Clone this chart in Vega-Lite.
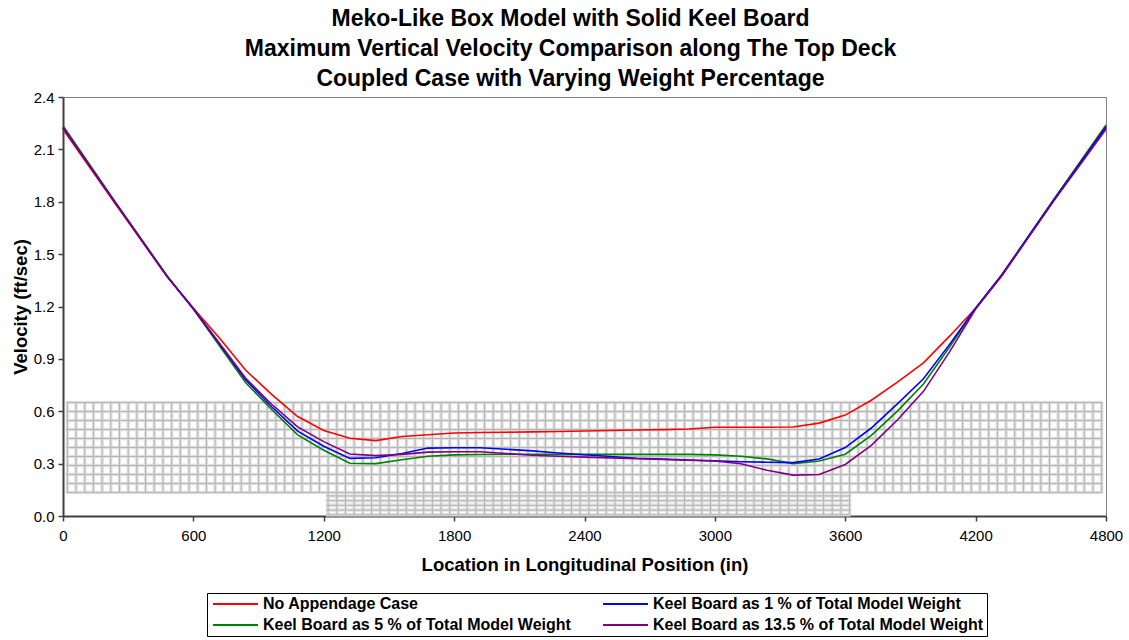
{
  "$schema": "https://vega.github.io/schema/vega-lite/v6.json",
  "autosize": {"type": "none"},
  "width": 1043,
  "height": 419,
  "padding": {"left": 63, "top": 97, "right": 23, "bottom": 124},
  "background": "white",
  "config": {
    "font": "Liberation Sans",
    "view": {"stroke": "#808080", "strokeWidth": 1},
    "axis": {"domainColor": "#404040", "domainWidth": 2, "tickColor": "#404040", "tickWidth": 1.5, "tickSize": 5, "grid": false, "labelColor": "black", "labelFont": "Liberation Sans", "labelFontSize": 15, "titleFont": "Liberation Sans", "titleFontSize": 18.5, "titleFontWeight": "bold", "titleColor": "black"}
  },
  "title": {
    "text": ["Meko-Like Box Model with Solid Keel Board", "Maximum Vertical Velocity Comparison along The Top Deck", "Coupled Case with Varying Weight Percentage"],
    "font": "Liberation Sans", "fontSize": 23, "fontWeight": "bold", "color": "black", "lineHeight": 30, "offset": -1, "anchor": "middle", "dx": -14
  },
  "datasets": {
    "vlines": [
      {"x":20,"lo":0.135},{"x":60,"lo":0.135},{"x":100,"lo":0.135},{"x":140,"lo":0.135},{"x":180,"lo":0.135},{"x":220,"lo":0.135},{"x":260,"lo":0.135},{"x":300,"lo":0.135},{"x":340,"lo":0.135},{"x":380,"lo":0.135},
      {"x":420,"lo":0.135},{"x":460,"lo":0.135},{"x":500,"lo":0.135},{"x":540,"lo":0.135},{"x":580,"lo":0.135},{"x":620,"lo":0.135},{"x":660,"lo":0.135},{"x":700,"lo":0.135},{"x":740,"lo":0.135},{"x":780,"lo":0.135},
      {"x":820,"lo":0.135},{"x":860,"lo":0.135},{"x":900,"lo":0.135},{"x":940,"lo":0.135},{"x":980,"lo":0.135},{"x":1020,"lo":0.135},{"x":1060,"lo":0.135},{"x":1100,"lo":0.135},{"x":1140,"lo":0.135},{"x":1180,"lo":0.135},
      {"x":1220,"lo":0.005},{"x":1260,"lo":0.005},{"x":1300,"lo":0.005},{"x":1340,"lo":0.005},{"x":1380,"lo":0.005},{"x":1420,"lo":0.005},{"x":1460,"lo":0.005},{"x":1500,"lo":0.005},{"x":1540,"lo":0.005},{"x":1580,"lo":0.005},
      {"x":1620,"lo":0.005},{"x":1660,"lo":0.005},{"x":1700,"lo":0.005},{"x":1740,"lo":0.005},{"x":1780,"lo":0.005},{"x":1820,"lo":0.005},{"x":1860,"lo":0.005},{"x":1900,"lo":0.005},{"x":1940,"lo":0.005},{"x":1980,"lo":0.005},
      {"x":2020,"lo":0.005},{"x":2060,"lo":0.005},{"x":2100,"lo":0.005},{"x":2140,"lo":0.005},{"x":2180,"lo":0.005},{"x":2220,"lo":0.005},{"x":2260,"lo":0.005},{"x":2300,"lo":0.005},{"x":2340,"lo":0.005},{"x":2380,"lo":0.005},
      {"x":2420,"lo":0.005},{"x":2460,"lo":0.005},{"x":2500,"lo":0.005},{"x":2540,"lo":0.005},{"x":2580,"lo":0.005},{"x":2620,"lo":0.005},{"x":2660,"lo":0.005},{"x":2700,"lo":0.005},{"x":2740,"lo":0.005},{"x":2780,"lo":0.005},
      {"x":2820,"lo":0.005},{"x":2860,"lo":0.005},{"x":2900,"lo":0.005},{"x":2940,"lo":0.005},{"x":2980,"lo":0.005},{"x":3020,"lo":0.005},{"x":3060,"lo":0.005},{"x":3100,"lo":0.005},{"x":3140,"lo":0.005},{"x":3180,"lo":0.005},
      {"x":3220,"lo":0.005},{"x":3260,"lo":0.005},{"x":3300,"lo":0.005},{"x":3340,"lo":0.005},{"x":3380,"lo":0.005},{"x":3420,"lo":0.005},{"x":3460,"lo":0.005},{"x":3500,"lo":0.005},{"x":3540,"lo":0.005},{"x":3580,"lo":0.005},
      {"x":3620,"lo":0.005},
      {"x":3660,"lo":0.135},{"x":3700,"lo":0.135},{"x":3740,"lo":0.135},{"x":3780,"lo":0.135},{"x":3820,"lo":0.135},{"x":3860,"lo":0.135},{"x":3900,"lo":0.135},{"x":3940,"lo":0.135},{"x":3980,"lo":0.135},{"x":4020,"lo":0.135},
      {"x":4060,"lo":0.135},{"x":4100,"lo":0.135},{"x":4140,"lo":0.135},{"x":4180,"lo":0.135},{"x":4220,"lo":0.135},{"x":4260,"lo":0.135},{"x":4300,"lo":0.135},{"x":4340,"lo":0.135},{"x":4380,"lo":0.135},{"x":4420,"lo":0.135},
      {"x":4460,"lo":0.135},{"x":4500,"lo":0.135},{"x":4540,"lo":0.135},{"x":4580,"lo":0.135},{"x":4620,"lo":0.135},{"x":4660,"lo":0.135},{"x":4700,"lo":0.135},{"x":4740,"lo":0.135},{"x":4780,"lo":0.135}
    ],
    "hlines": [
      {"y":0.65,"a":15,"b":4785},{"y":0.5985,"a":15,"b":4785},{"y":0.547,"a":15,"b":4785},{"y":0.4955,"a":15,"b":4785},{"y":0.444,"a":15,"b":4785},{"y":0.3925,"a":15,"b":4785},
      {"y":0.341,"a":15,"b":4785},{"y":0.2895,"a":15,"b":4785},{"y":0.238,"a":15,"b":4785},{"y":0.1865,"a":15,"b":4785},{"y":0.135,"a":15,"b":4785},
      {"y":0.115,"a":1210,"b":3625},{"y":0.088,"a":1210,"b":3625},{"y":0.061,"a":1210,"b":3625},{"y":0.034,"a":1210,"b":3625},{"y":0.007,"a":1210,"b":3625}
    ],
    "curves": [
      {"x":0,"v":2.215,"s":"No Appendage Case"},{"x":240,"v":1.79,"s":"No Appendage Case"},{"x":480,"v":1.37,"s":"No Appendage Case"},{"x":600,"v":1.19,"s":"No Appendage Case"},{"x":720,"v":1.02,"s":"No Appendage Case"},{"x":840,"v":0.836,"s":"No Appendage Case"},{"x":960,"v":0.697,"s":"No Appendage Case"},{"x":1080,"v":0.57,"s":"No Appendage Case"},{"x":1200,"v":0.49,"s":"No Appendage Case"},{"x":1320,"v":0.445,"s":"No Appendage Case"},{"x":1440,"v":0.432,"s":"No Appendage Case"},{"x":1560,"v":0.455,"s":"No Appendage Case"},{"x":1680,"v":0.465,"s":"No Appendage Case"},{"x":1800,"v":0.475,"s":"No Appendage Case"},{"x":1920,"v":0.478,"s":"No Appendage Case"},{"x":2040,"v":0.48,"s":"No Appendage Case"},{"x":2160,"v":0.482,"s":"No Appendage Case"},{"x":2280,"v":0.484,"s":"No Appendage Case"},{"x":2400,"v":0.487,"s":"No Appendage Case"},{"x":2520,"v":0.49,"s":"No Appendage Case"},{"x":2640,"v":0.493,"s":"No Appendage Case"},{"x":2760,"v":0.495,"s":"No Appendage Case"},{"x":2880,"v":0.498,"s":"No Appendage Case"},{"x":3000,"v":0.508,"s":"No Appendage Case"},{"x":3120,"v":0.508,"s":"No Appendage Case"},{"x":3240,"v":0.508,"s":"No Appendage Case"},{"x":3360,"v":0.51,"s":"No Appendage Case"},{"x":3480,"v":0.532,"s":"No Appendage Case"},{"x":3600,"v":0.578,"s":"No Appendage Case"},{"x":3720,"v":0.663,"s":"No Appendage Case"},{"x":3840,"v":0.767,"s":"No Appendage Case"},{"x":3960,"v":0.877,"s":"No Appendage Case"},{"x":4080,"v":1.03,"s":"No Appendage Case"},{"x":4200,"v":1.19,"s":"No Appendage Case"},{"x":4320,"v":1.378,"s":"No Appendage Case"},{"x":4560,"v":1.81,"s":"No Appendage Case"},{"x":4800,"v":2.225,"s":"No Appendage Case"},
      {"x":0,"v":2.235,"s":"Keel Board as 5 % of Total Model Weight"},{"x":240,"v":1.8,"s":"Keel Board as 5 % of Total Model Weight"},{"x":480,"v":1.375,"s":"Keel Board as 5 % of Total Model Weight"},{"x":600,"v":1.185,"s":"Keel Board as 5 % of Total Model Weight"},{"x":720,"v":0.975,"s":"Keel Board as 5 % of Total Model Weight"},{"x":840,"v":0.765,"s":"Keel Board as 5 % of Total Model Weight"},{"x":960,"v":0.61,"s":"Keel Board as 5 % of Total Model Weight"},{"x":1080,"v":0.465,"s":"Keel Board as 5 % of Total Model Weight"},{"x":1200,"v":0.377,"s":"Keel Board as 5 % of Total Model Weight"},{"x":1320,"v":0.302,"s":"Keel Board as 5 % of Total Model Weight"},{"x":1440,"v":0.3,"s":"Keel Board as 5 % of Total Model Weight"},{"x":1560,"v":0.322,"s":"Keel Board as 5 % of Total Model Weight"},{"x":1680,"v":0.342,"s":"Keel Board as 5 % of Total Model Weight"},{"x":1800,"v":0.35,"s":"Keel Board as 5 % of Total Model Weight"},{"x":1920,"v":0.352,"s":"Keel Board as 5 % of Total Model Weight"},{"x":2040,"v":0.354,"s":"Keel Board as 5 % of Total Model Weight"},{"x":2160,"v":0.354,"s":"Keel Board as 5 % of Total Model Weight"},{"x":2280,"v":0.353,"s":"Keel Board as 5 % of Total Model Weight"},{"x":2400,"v":0.353,"s":"Keel Board as 5 % of Total Model Weight"},{"x":2520,"v":0.353,"s":"Keel Board as 5 % of Total Model Weight"},{"x":2640,"v":0.353,"s":"Keel Board as 5 % of Total Model Weight"},{"x":2760,"v":0.353,"s":"Keel Board as 5 % of Total Model Weight"},{"x":2880,"v":0.353,"s":"Keel Board as 5 % of Total Model Weight"},{"x":3000,"v":0.35,"s":"Keel Board as 5 % of Total Model Weight"},{"x":3120,"v":0.342,"s":"Keel Board as 5 % of Total Model Weight"},{"x":3240,"v":0.327,"s":"Keel Board as 5 % of Total Model Weight"},{"x":3360,"v":0.3,"s":"Keel Board as 5 % of Total Model Weight"},{"x":3480,"v":0.315,"s":"Keel Board as 5 % of Total Model Weight"},{"x":3600,"v":0.354,"s":"Keel Board as 5 % of Total Model Weight"},{"x":3720,"v":0.462,"s":"Keel Board as 5 % of Total Model Weight"},{"x":3840,"v":0.601,"s":"Keel Board as 5 % of Total Model Weight"},{"x":3960,"v":0.756,"s":"Keel Board as 5 % of Total Model Weight"},{"x":4080,"v":0.968,"s":"Keel Board as 5 % of Total Model Weight"},{"x":4200,"v":1.19,"s":"Keel Board as 5 % of Total Model Weight"},{"x":4320,"v":1.38,"s":"Keel Board as 5 % of Total Model Weight"},{"x":4560,"v":1.815,"s":"Keel Board as 5 % of Total Model Weight"},{"x":4800,"v":2.24,"s":"Keel Board as 5 % of Total Model Weight"},
      {"x":0,"v":2.225,"s":"Keel Board as 1 % of Total Model Weight"},{"x":240,"v":1.795,"s":"Keel Board as 1 % of Total Model Weight"},{"x":480,"v":1.37,"s":"Keel Board as 1 % of Total Model Weight"},{"x":600,"v":1.185,"s":"Keel Board as 1 % of Total Model Weight"},{"x":720,"v":0.985,"s":"Keel Board as 1 % of Total Model Weight"},{"x":840,"v":0.78,"s":"Keel Board as 1 % of Total Model Weight"},{"x":960,"v":0.626,"s":"Keel Board as 1 % of Total Model Weight"},{"x":1080,"v":0.486,"s":"Keel Board as 1 % of Total Model Weight"},{"x":1200,"v":0.4,"s":"Keel Board as 1 % of Total Model Weight"},{"x":1320,"v":0.33,"s":"Keel Board as 1 % of Total Model Weight"},{"x":1440,"v":0.334,"s":"Keel Board as 1 % of Total Model Weight"},{"x":1560,"v":0.358,"s":"Keel Board as 1 % of Total Model Weight"},{"x":1680,"v":0.389,"s":"Keel Board as 1 % of Total Model Weight"},{"x":1800,"v":0.391,"s":"Keel Board as 1 % of Total Model Weight"},{"x":1920,"v":0.391,"s":"Keel Board as 1 % of Total Model Weight"},{"x":2040,"v":0.382,"s":"Keel Board as 1 % of Total Model Weight"},{"x":2160,"v":0.373,"s":"Keel Board as 1 % of Total Model Weight"},{"x":2280,"v":0.361,"s":"Keel Board as 1 % of Total Model Weight"},{"x":2400,"v":0.351,"s":"Keel Board as 1 % of Total Model Weight"},{"x":2520,"v":0.341,"s":"Keel Board as 1 % of Total Model Weight"},{"x":2640,"v":0.331,"s":"Keel Board as 1 % of Total Model Weight"},{"x":2760,"v":0.326,"s":"Keel Board as 1 % of Total Model Weight"},{"x":2880,"v":0.321,"s":"Keel Board as 1 % of Total Model Weight"},{"x":3000,"v":0.316,"s":"Keel Board as 1 % of Total Model Weight"},{"x":3120,"v":0.311,"s":"Keel Board as 1 % of Total Model Weight"},{"x":3240,"v":0.308,"s":"Keel Board as 1 % of Total Model Weight"},{"x":3360,"v":0.306,"s":"Keel Board as 1 % of Total Model Weight"},{"x":3480,"v":0.326,"s":"Keel Board as 1 % of Total Model Weight"},{"x":3600,"v":0.392,"s":"Keel Board as 1 % of Total Model Weight"},{"x":3720,"v":0.504,"s":"Keel Board as 1 % of Total Model Weight"},{"x":3840,"v":0.642,"s":"Keel Board as 1 % of Total Model Weight"},{"x":3960,"v":0.786,"s":"Keel Board as 1 % of Total Model Weight"},{"x":4080,"v":0.983,"s":"Keel Board as 1 % of Total Model Weight"},{"x":4200,"v":1.19,"s":"Keel Board as 1 % of Total Model Weight"},{"x":4320,"v":1.38,"s":"Keel Board as 1 % of Total Model Weight"},{"x":4560,"v":1.81,"s":"Keel Board as 1 % of Total Model Weight"},{"x":4800,"v":2.23,"s":"Keel Board as 1 % of Total Model Weight"},
      {"x":0,"v":2.222,"s":"Keel Board as 13.5 % of Total Model Weight"},{"x":240,"v":1.795,"s":"Keel Board as 13.5 % of Total Model Weight"},{"x":480,"v":1.37,"s":"Keel Board as 13.5 % of Total Model Weight"},{"x":600,"v":1.19,"s":"Keel Board as 13.5 % of Total Model Weight"},{"x":720,"v":0.99,"s":"Keel Board as 13.5 % of Total Model Weight"},{"x":840,"v":0.79,"s":"Keel Board as 13.5 % of Total Model Weight"},{"x":960,"v":0.64,"s":"Keel Board as 13.5 % of Total Model Weight"},{"x":1080,"v":0.51,"s":"Keel Board as 13.5 % of Total Model Weight"},{"x":1200,"v":0.426,"s":"Keel Board as 13.5 % of Total Model Weight"},{"x":1320,"v":0.355,"s":"Keel Board as 13.5 % of Total Model Weight"},{"x":1440,"v":0.346,"s":"Keel Board as 13.5 % of Total Model Weight"},{"x":1560,"v":0.353,"s":"Keel Board as 13.5 % of Total Model Weight"},{"x":1680,"v":0.366,"s":"Keel Board as 13.5 % of Total Model Weight"},{"x":1800,"v":0.368,"s":"Keel Board as 13.5 % of Total Model Weight"},{"x":1920,"v":0.368,"s":"Keel Board as 13.5 % of Total Model Weight"},{"x":2040,"v":0.358,"s":"Keel Board as 13.5 % of Total Model Weight"},{"x":2160,"v":0.348,"s":"Keel Board as 13.5 % of Total Model Weight"},{"x":2280,"v":0.342,"s":"Keel Board as 13.5 % of Total Model Weight"},{"x":2400,"v":0.337,"s":"Keel Board as 13.5 % of Total Model Weight"},{"x":2520,"v":0.333,"s":"Keel Board as 13.5 % of Total Model Weight"},{"x":2640,"v":0.328,"s":"Keel Board as 13.5 % of Total Model Weight"},{"x":2760,"v":0.324,"s":"Keel Board as 13.5 % of Total Model Weight"},{"x":2880,"v":0.319,"s":"Keel Board as 13.5 % of Total Model Weight"},{"x":3000,"v":0.315,"s":"Keel Board as 13.5 % of Total Model Weight"},{"x":3120,"v":0.299,"s":"Keel Board as 13.5 % of Total Model Weight"},{"x":3240,"v":0.262,"s":"Keel Board as 13.5 % of Total Model Weight"},{"x":3360,"v":0.234,"s":"Keel Board as 13.5 % of Total Model Weight"},{"x":3480,"v":0.238,"s":"Keel Board as 13.5 % of Total Model Weight"},{"x":3600,"v":0.295,"s":"Keel Board as 13.5 % of Total Model Weight"},{"x":3720,"v":0.405,"s":"Keel Board as 13.5 % of Total Model Weight"},{"x":3840,"v":0.55,"s":"Keel Board as 13.5 % of Total Model Weight"},{"x":3960,"v":0.714,"s":"Keel Board as 13.5 % of Total Model Weight"},{"x":4080,"v":0.94,"s":"Keel Board as 13.5 % of Total Model Weight"},{"x":4200,"v":1.185,"s":"Keel Board as 13.5 % of Total Model Weight"},{"x":4320,"v":1.375,"s":"Keel Board as 13.5 % of Total Model Weight"},{"x":4560,"v":1.805,"s":"Keel Board as 13.5 % of Total Model Weight"},{"x":4800,"v":2.215,"s":"Keel Board as 13.5 % of Total Model Weight"}
    ]
  },
  "layer": [
    {
      "data": {"name": "vlines"},
      "mark": {"type": "rule", "stroke": "#e2e2e2", "strokeWidth": 3.5},
      "encoding": {
        "x": {"field": "x", "type": "quantitative", "scale": {"domain": [0, 4800], "nice": false}},
        "y": {"field": "lo", "type": "quantitative", "scale": {"domain": [0, 2.4], "nice": false}},
        "y2": {"datum": 0.65}
      }
    },
    {
      "data": {"name": "hlines"},
      "mark": {"type": "rule", "stroke": "#e2e2e2", "strokeWidth": 3.5},
      "encoding": {
        "x": {"field": "a", "type": "quantitative"},
        "x2": {"field": "b"},
        "y": {"field": "y", "type": "quantitative"}
      }
    },
    {
      "data": {"name": "vlines"},
      "mark": {"type": "rule", "stroke": "#b4b4b4", "strokeWidth": 1},
      "encoding": {
        "x": {"field": "x", "type": "quantitative"},
        "y": {"field": "lo", "type": "quantitative"},
        "y2": {"datum": 0.65}
      }
    },
    {
      "data": {"name": "hlines"},
      "mark": {"type": "rule", "stroke": "#b4b4b4", "strokeWidth": 1},
      "encoding": {
        "x": {"field": "a", "type": "quantitative"},
        "x2": {"field": "b"},
        "y": {"field": "y", "type": "quantitative"}
      }
    },
    {
      "data": {"name": "curves"},
      "mark": {"type": "line", "strokeWidth": 1.6},
      "encoding": {
        "x": {"field": "x", "type": "quantitative", "title": "Location in Longitudinal Position (in)",
              "axis": {"values": [0, 600, 1200, 1800, 2400, 3000, 3600, 4200, 4800], "format": "d", "labelPadding": 7, "titlePadding": 12, "labelFlush": false}},
        "y": {"field": "v", "type": "quantitative", "title": "Velocity (ft/sec)",
              "axis": {"values": [0, 0.3, 0.6, 0.9, 1.2, 1.5, 1.8, 2.1, 2.4], "format": ".1f", "labelPadding": 4, "titlePadding": 3, "labelFlush": false}},
        "color": {"field": "s", "type": "nominal",
          "scale": {"domain": ["No Appendage Case", "Keel Board as 1 % of Total Model Weight", "Keel Board as 5 % of Total Model Weight", "Keel Board as 13.5 % of Total Model Weight"],
                    "range": ["#ff0000", "#0000ff", "#008000", "#800080"]},
          "legend": {"title": null, "orient": "none", "legendX": 144, "legendY": 496, "columns": 2, "direction": "horizontal",
                     "symbolType": "M-1,0H8", "symbolSize": 100, "symbolStrokeWidth": 2, "labelFont": "Liberation Sans", "labelFontSize": 16, "labelFontWeight": "bold", "labelColor": "black", "labelLimit": 450,
                     "strokeColor": "black", "padding": 3, "rowPadding": 5, "columnPadding": 28, "labelOffset": 37}},
        "order": {"field": "x"}
      }
    }
  ]
}
